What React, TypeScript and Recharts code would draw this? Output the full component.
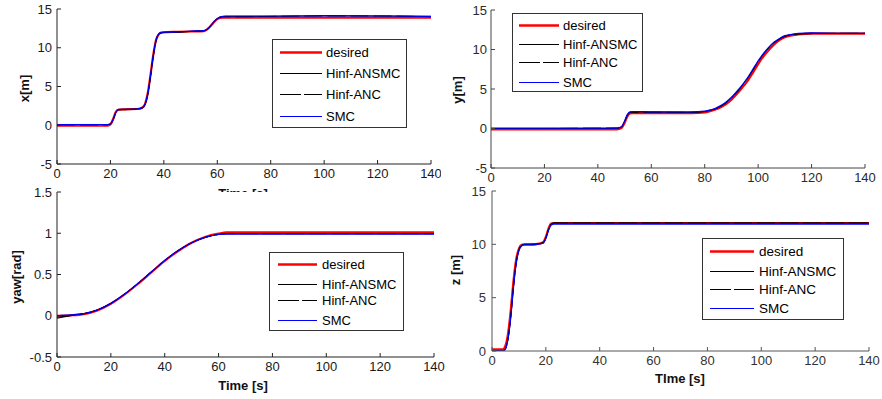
import React from 'react';
import { LineChart, Line, XAxis, YAxis, CartesianGrid, Legend } from 'recharts';

// ---------- shared ----------
const seriesNames = ['desired', 'Hinf-ANSMC', 'Hinf-ANC', 'SMC'];
const timeTicks = [0, 20, 40, 60, 80, 100, 120, 140];
const posTicks = [-5, 0, 5, 10, 15];
const yawTicks = [-0.5, 0, 0.5, 1, 1.5];
const zTicks = [0, 5, 10, 15];

// ---------- x [m] ----------
const xTime = [0, 10, 19, 20, 21, 22, 23, 25, 30, 32, 33, 34, 35, 36, 37, 38, 39, 40, 45, 50, 55, 56, 57, 58, 59, 60, 61, 62, 63, 70, 80, 100, 120, 140];
const xDesired = [-0.05, -0.05, -0.05, 0.1, 0.8, 1.7, 2.0, 2.05, 2.1, 2.3, 2.8, 4.2, 6.5, 9.0, 10.9, 11.7, 11.95, 12.0, 12.05, 12.1, 12.15, 12.3, 12.6, 13.0, 13.4, 13.7, 13.85, 13.9, 13.9, 13.9, 13.9, 13.9, 13.9, 13.9];
const xANSMC = [0.1, 0.1, 0.1, 0.2, 0.7, 1.6, 2.0, 2.05, 2.1, 2.25, 2.7, 4.0, 6.3, 8.8, 10.8, 11.7, 11.95, 12.0, 12.05, 12.1, 12.2, 12.35, 12.65, 13.05, 13.45, 13.75, 13.95, 14.0, 14.05, 14.05, 14.05, 14.15, 14.1, 14.05];
const xANC = [0.05, 0.05, 0.05, 0.15, 0.7, 1.6, 2.0, 2.0, 2.05, 2.25, 2.7, 4.0, 6.3, 8.8, 10.8, 11.7, 11.9, 11.95, 12.0, 12.1, 12.2, 12.35, 12.65, 13.05, 13.45, 13.75, 13.95, 14.0, 14.0, 14.0, 14.05, 14.1, 14.1, 14.0];
const xSMC = [0.1, 0.1, 0.1, 0.2, 0.75, 1.65, 2.05, 2.05, 2.1, 2.3, 2.75, 4.1, 6.4, 8.9, 10.9, 11.75, 12.0, 12.0, 12.05, 12.15, 12.2, 12.35, 12.65, 13.05, 13.45, 13.75, 13.95, 14.05, 14.1, 14.1, 14.1, 14.1, 14.1, 14.05];

// ---------- y [m] ----------
const yTime = [0, 20, 40, 47, 48, 49, 50, 51, 52, 53, 55, 60, 70, 75, 80, 82, 84, 86, 88, 90, 92, 94, 96, 98, 100, 102, 104, 106, 108, 110, 112, 115, 120, 130, 140];
const yDesired = [-0.1, -0.1, -0.1, -0.1, -0.05, 0.1, 0.7, 1.5, 1.9, 1.95, 1.95, 1.95, 1.95, 1.95, 2.05, 2.2, 2.4, 2.7, 3.1, 3.65, 4.35, 5.15, 6.0, 7.05, 8.15, 9.15, 9.95, 10.65, 11.2, 11.55, 11.75, 11.9, 12.0, 12.0, 12.0];
const yANSMC = [0.0, 0.0, 0.0, 0.05, 0.1, 0.25, 0.9, 1.7, 2.05, 2.1, 2.1, 2.1, 2.05, 2.05, 2.15, 2.3, 2.5, 2.85, 3.3, 3.9, 4.6, 5.45, 6.35, 7.4, 8.5, 9.45, 10.25, 10.9, 11.35, 11.7, 11.85, 12.0, 12.05, 12.05, 12.05];
const yANC = [0.0, 0.0, 0.05, 0.05, 0.1, 0.25, 0.85, 1.65, 2.0, 2.05, 2.05, 2.05, 2.05, 2.05, 2.15, 2.3, 2.5, 2.8, 3.25, 3.85, 4.55, 5.4, 6.3, 7.35, 8.45, 9.4, 10.2, 10.85, 11.3, 11.65, 11.85, 11.95, 12.0, 12.05, 12.05];
const ySMC = [0.05, 0.05, 0.05, 0.05, 0.1, 0.3, 0.95, 1.75, 2.1, 2.15, 2.15, 2.1, 2.1, 2.1, 2.2, 2.35, 2.55, 2.9, 3.35, 3.95, 4.7, 5.5, 6.4, 7.5, 8.55, 9.5, 10.3, 10.95, 11.4, 11.75, 11.9, 12.05, 12.1, 12.05, 12.05];

// ---------- yaw [rad] ----------
const yawTime = [0, 5, 10, 15, 20, 25, 30, 35, 40, 45, 50, 55, 60, 63, 65, 70, 80, 100, 120, 140];
const yawDesired = [0.0, 0.005, 0.02, 0.065, 0.145, 0.255, 0.385, 0.525, 0.665, 0.785, 0.885, 0.955, 0.995, 1.01, 1.01, 1.01, 1.01, 1.01, 1.01, 1.01];
const yawANSMC = [-0.02, 0.005, 0.025, 0.07, 0.15, 0.26, 0.39, 0.53, 0.67, 0.79, 0.885, 0.95, 0.985, 0.995, 0.995, 0.995, 0.995, 0.995, 0.995, 0.995];
const yawANC = [-0.03, 0.0, 0.025, 0.07, 0.15, 0.26, 0.39, 0.53, 0.67, 0.79, 0.885, 0.95, 0.985, 0.995, 0.995, 0.995, 0.995, 0.995, 0.995, 0.995];
const yawSMC = [0.0, 0.01, 0.025, 0.07, 0.15, 0.26, 0.39, 0.53, 0.67, 0.79, 0.885, 0.95, 0.985, 0.99, 0.99, 0.99, 0.99, 0.99, 0.99, 0.99];

// ---------- z [m] ----------
const zTime = [0, 4, 5, 6, 7, 8, 9, 10, 11, 12, 14, 17, 19, 20, 21, 22, 23, 25, 40, 60, 80, 100, 120, 140];
const zDesired = [0.15, 0.15, 0.5, 1.7, 3.9, 6.6, 8.6, 9.6, 9.95, 10.0, 10.0, 10.05, 10.2, 10.7, 11.5, 11.95, 12.0, 12.0, 12.0, 12.0, 12.0, 12.0, 12.0, 12.0];
const zANSMC = [0.0, 0.0, 0.2, 1.2, 3.3, 6.1, 8.3, 9.5, 9.9, 10.0, 10.0, 10.05, 10.15, 10.6, 11.4, 11.9, 12.0, 12.0, 12.0, 12.0, 12.0, 12.0, 12.0, 12.0];
const zANC = [0.0, 0.0, 0.2, 1.2, 3.3, 6.1, 8.3, 9.5, 9.9, 10.0, 10.0, 10.05, 10.15, 10.6, 11.4, 11.9, 12.0, 12.0, 12.0, 12.0, 12.0, 12.0, 12.0, 12.0];
const zSMC = [0.0, 0.0, 0.2, 1.2, 3.2, 6.0, 8.2, 9.4, 9.85, 9.95, 9.95, 10.0, 10.1, 10.55, 11.3, 11.8, 11.9, 11.9, 11.9, 11.9, 11.9, 11.9, 11.9, 11.9];

const buildRows = (t: number[], a: number[], b: number[], c: number[], d: number[]) =>
  t.map((tt, i) => ({ t: tt, desired: a[i], ansmc: b[i], anc: c[i], smc: d[i] }));

const xRows = buildRows(xTime, xDesired, xANSMC, xANC, xSMC);
const yRows = buildRows(yTime, yDesired, yANSMC, yANC, ySMC);
const yawRows = buildRows(yawTime, yawDesired, yawANSMC, yawANC, yawSMC);
const zRows = buildRows(zTime, zDesired, zANSMC, zANC, zSMC);

const FONT = '"Liberation Sans", Arial, Helvetica, sans-serif';
const DASH = '18 5';

type LegendCfg = { left: number; top: number; w: number; h: number; rows: number[]; s0: number; s1: number; tx: number; fs: number };

const legendStyles = [
  { stroke: '#ff0000', width: 2.5, dash: undefined },
  { stroke: '#000000', width: 1, dash: undefined },
  { stroke: '#000000', width: 1, dash: '21 3' },
  { stroke: '#0000ff', width: 1, dash: undefined },
];

const LegendBox = ({ cfg }: { cfg: LegendCfg }) => (
  <svg width={cfg.w} height={cfg.h} style={{ display: 'block' }}>
    <rect x={0.5} y={0.5} width={cfg.w - 1} height={cfg.h - 1} fill="#fff" stroke="#333" strokeWidth={1} />
    {seriesNames.map((n, i) => (
      <g key={n}>
        <line x1={cfg.s0} x2={cfg.s1} y1={cfg.rows[i] + 0.5} y2={cfg.rows[i] + 0.5} stroke={legendStyles[i].stroke}
          strokeWidth={legendStyles[i].width} strokeDasharray={legendStyles[i].dash} />
        <text x={cfg.tx} y={cfg.rows[i]} dominantBaseline="central" fontFamily={FONT} fontSize={cfg.fs} fill="#000">{n}</text>
      </g>
    ))}
  </svg>
);

type PanelProps = {
  rows: any[];
  left: number; top: number; width: number; height: number;
  margin: { top: number; right: number; left: number; bottom: number };
  yAxisWidth: number; xAxisHeight: number;
  yDomain: [number, number]; yTicks: number[];
  yLabel: string; yLabelPos: [number, number];
  xLabel?: string; xLabelPos?: [number, number];
  legend: LegendCfg;
  axisColor: string; textColor: string;
  yTickMargin: number;
  whiteBg?: boolean;
};

const Panel = (p: PanelProps) => {
  const tickStyle = { fontFamily: FONT, fontSize: 13, fill: p.textColor };
  return (
    <div style={{ position: 'absolute', left: p.left, top: p.top, width: p.width, height: p.height }}>
      <LineChart width={p.width} height={p.height} data={p.rows} margin={p.margin}>
        {p.whiteBg ? <CartesianGrid stroke="none" fill="#ffffff" fillOpacity={1} /> : null}
        <XAxis dataKey="t" type="number" domain={[0, 140]} ticks={timeTicks} allowDataOverflow
          height={p.xAxisHeight} tickSize={-4} tickMargin={9} tick={tickStyle}
          stroke={p.axisColor} tickLine={{ stroke: p.axisColor }} interval={0}
          label={p.xLabel ? (() => (
            <text x={p.xLabelPos![0]} y={p.xLabelPos![1]} textAnchor="middle" fontFamily={FONT} fontSize={13}
              fontWeight="bold" fill="#111">{p.xLabel}</text>
          )) as any : undefined} />
        <XAxis xAxisId="top" orientation="top" type="number" domain={[0, 140]} ticks={timeTicks} allowDataOverflow
          height={0} tickSize={-4} tick={false} stroke={p.axisColor} tickLine={{ stroke: p.axisColor }} interval={0} />
        <YAxis type="number" domain={p.yDomain} ticks={p.yTicks} allowDataOverflow width={p.yAxisWidth}
          tickSize={-4} tickMargin={p.yTickMargin} tick={tickStyle} stroke={p.axisColor} tickLine={{ stroke: p.axisColor }} interval={0}
          label={(() => (
            <text x={p.yLabelPos[0]} y={p.yLabelPos[1]} textAnchor="middle" dominantBaseline="central"
              transform={`rotate(-90 ${p.yLabelPos[0]} ${p.yLabelPos[1]})`} fontFamily={FONT} fontSize={13}
              fontWeight="bold" fill="#111">{p.yLabel}</text>
          )) as any} />
        <YAxis yAxisId="right" orientation="right" type="number" domain={p.yDomain} ticks={p.yTicks} allowDataOverflow
          width={0} tickSize={-4} tick={false} stroke={p.axisColor} tickLine={{ stroke: p.axisColor }} interval={0} />
        <Legend layout="vertical" align="center" verticalAlign="middle"
          wrapperStyle={{ left: p.legend.left, top: p.legend.top, width: p.legend.w, height: p.legend.h }}
          content={() => <LegendBox cfg={p.legend} />} />
        <Line type="monotone" dataKey="desired" name={seriesNames[0]} stroke="#ff0000" strokeWidth={2.2} dot={false} isAnimationActive={false} />
        <Line type="monotone" dataKey="ansmc" name={seriesNames[1]} stroke="#000000" strokeWidth={1} dot={false} isAnimationActive={false} />
        <Line type="monotone" dataKey="anc" name={seriesNames[2]} stroke="#000000" strokeWidth={1} strokeDasharray={DASH} dot={false} isAnimationActive={false} />
        <Line type="monotone" dataKey="smc" name={seriesNames[3]} stroke="#0000ff" strokeWidth={1.2} dot={false} isAnimationActive={false} />
      </LineChart>
    </div>
  );
};

export default function App() {
  return (
    <div style={{ position: 'absolute', left: 0, top: 0, width: 882, height: 399, background: '#fff', overflow: 'hidden' }}>
      <Panel rows={xRows} left={0} top={0} width={441} height={210}
        margin={{ top: 9, right: 10, left: 0, bottom: 0 }} yAxisWidth={57} xAxisHeight={46}
        yDomain={[-5, 15]} yTicks={posTicks} yLabel="x[m]" yLabelPos={[24, 88.5]}
        xLabel="Time [s]" xLabelPos={[243, 197.5]}
        legend={{ left: 272, top: 39, w: 135, h: 89, rows: [13, 34, 55, 77], s0: 8, s1: 50, tx: 54, fs: 13 }}
        axisColor="#222" textColor="#1a1a1a" yTickMargin={9} />
      <Panel rows={yRows} left={441} top={0} width={441} height={185}
        margin={{ top: 10, right: 17, left: 0, bottom: 0 }} yAxisWidth={50} xAxisHeight={17}
        yDomain={[-5, 15]} yTicks={posTicks} yLabel="y[m]" yLabelPos={[16, 90]}
        legend={{ left: 71, top: 13, w: 131, h: 79, rows: [12, 31, 49, 69], s0: 7, s1: 47, tx: 51, fs: 13 }}
        axisColor="#444" textColor="#2a2a2a" yTickMargin={8} />
      <Panel rows={yawRows} left={0} top={185} width={460} height={214}
        margin={{ top: 7, right: 26, left: 0, bottom: 0 }} yAxisWidth={57} xAxisHeight={42}
        yDomain={[-0.5, 1.5]} yTicks={yawTicks} yLabel="yaw[rad]" yLabelPos={[16, 92]}
        xLabel="Time [s]" xLabelPos={[243, 204.5]}
        legend={{ left: 269, top: 67, w: 135, h: 79, rows: [12, 32, 48, 68], s0: 9, s1: 48, tx: 53, fs: 13 }}
        axisColor="#222" textColor="#1a1a1a" yTickMargin={9} whiteBg />
      <Panel rows={zRows} left={441} top={185} width={441} height={214}
        margin={{ top: 6, right: 13, left: 0, bottom: 0 }} yAxisWidth={51} xAxisHeight={48}
        yDomain={[0, 15]} yTicks={zTicks} yLabel="z [m]" yLabelPos={[14, 85]}
        xLabel="TIme [s]" xLabelPos={[239, 197.5]}
        legend={{ left: 261, top: 53, w: 142, h: 82, rows: [13, 33, 51, 70], s0: 8, s1: 52, tx: 57, fs: 13.5 }}
        axisColor="#555" textColor="#333" yTickMargin={10} />
    </div>
  );
}
